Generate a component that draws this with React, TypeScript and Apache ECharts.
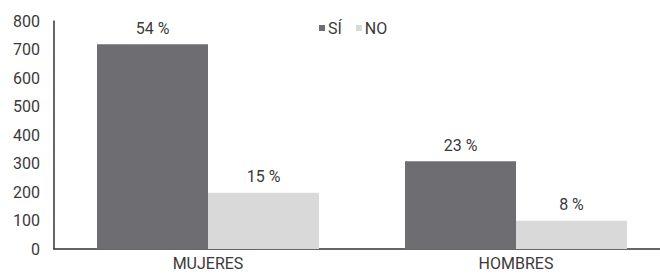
import React, { useEffect, useRef } from "react";
import * as echarts from "echarts";

const categories = ["MUJERES", "HOMBRES"];
const siValues = [718, 308];
const noValues = [197, 99];
const siPct = ["54 %", "23 %"];
const noPct = ["15 %", "8 %"];
const yTicks = [0, 100, 200, 300, 400, 500, 600, 700, 800];

const FONT = "Roboto";
const TEXT = "#3a3a3a";

export default function App() {
  const ref = useRef<HTMLDivElement>(null);
  useEffect(() => {
    if (!ref.current) return;
    const chart = echarts.init(ref.current, undefined, { renderer: "svg" });
    chart.setOption({
      animation: false,
      textStyle: { fontFamily: FONT },
      legend: {
        data: ["SÍ", "NO"],
        left: 314,
        top: 15,
        icon: "rect",
        itemWidth: 6,
        itemHeight: 6,
        itemGap: 14,
        textStyle: { fontFamily: FONT, fontSize: 16, color: TEXT, padding: [0, 0, 0, -2] },
      },
      grid: { left: 54, right: 0, top: 21, bottom: 26, containLabel: false },
      xAxis: {
        type: "category",
        data: categories,
        axisLine: { lineStyle: { color: "#333", width: 1.5 } },
        axisTick: { show: false },
        axisLabel: { fontFamily: FONT, fontSize: 16, color: TEXT, margin: 6 },
      },
      yAxis: {
        type: "value",
        min: yTicks[0],
        max: yTicks[yTicks.length - 1],
        interval: 100,
        axisLine: { show: true, lineStyle: { color: "#333", width: 1.5 } },
        axisTick: { show: false },
        splitLine: { show: false },
        axisLabel: { fontFamily: FONT, fontSize: 16, color: TEXT, margin: 14 },
      },
      series: [
        {
          name: "SÍ",
          type: "bar",
          data: siValues,
          barWidth: 111,
          barGap: "0%",
          itemStyle: { color: "#6e6e72" },
          label: {
            show: true,
            position: "top",
            distance: 8,
            fontFamily: FONT,
            fontSize: 16,
            color: TEXT,
            formatter: (p: any) => siPct[p.dataIndex],
          },
        },
        {
          name: "NO",
          type: "bar",
          data: noValues,
          barWidth: 111,
          barGap: "0%",
          itemStyle: { color: "#d9d9da" },
          label: {
            show: true,
            position: "top",
            distance: 8,
            fontFamily: FONT,
            fontSize: 16,
            color: TEXT,
            formatter: (p: any) => noPct[p.dataIndex],
          },
        },
      ],
    });
    return () => chart.dispose();
  }, []);
  return (
    <div
      style={{ position: "absolute", left: 0, top: 0, width: 660, height: 275, overflow: "hidden" }}
    >
      <div ref={ref} style={{ width: 670, height: 275 }} />
    </div>
  );
}
